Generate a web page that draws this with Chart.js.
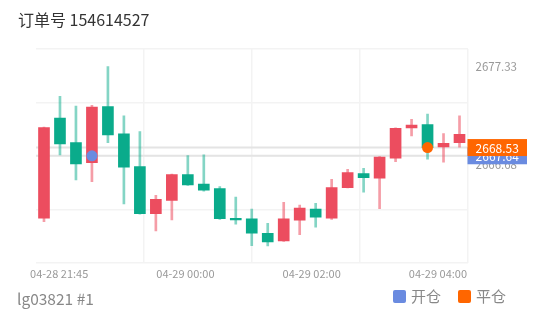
<!DOCTYPE html>
<html><head><meta charset="utf-8">
<script src="https://cdn.jsdelivr.net/npm/chart.js@4"></script>
<style>
html,body{margin:0;padding:0;background:#fff;}
#wrap{position:relative;width:557px;height:315px;overflow:hidden;font-family:"Noto Sans CJK SC","Noto Sans",sans-serif;}
canvas{position:absolute;left:0;top:0;}
#title{position:absolute;left:18px;top:8px;font-size:16px;line-height:22px;color:#333;white-space:nowrap;}
#foot{position:absolute;left:17px;top:287px;font-size:15.5px;line-height:22px;color:#888;white-space:nowrap;}
#legend{position:absolute;right:51px;top:285px;display:flex;align-items:center;font-size:15px;line-height:22px;color:#888;}
.item{display:flex;align-items:center;margin-left:17px;}
.sw{width:13px;height:13px;border-radius:2px;margin-right:5px;}
</style></head>
<body><div id="wrap"><canvas id="c" width="557" height="315"></canvas><div id="title"></div><div id="foot"></div><div id="legend"></div></div>
<script>
const orderTitle = '订单号 154614527';
const accountLabel = 'lg03821 #1';

const opens  = [2660.86,2671.74,2669.06,2666.89,2672.97,2670.01,2666.46,2661.36,2662.81,2665.59,2664.58,2664.07,2660.86,2660.79,2659.24,2658.40,2660.65,2661.87,2660.86,2664.18,2665.70,2665.20,2667.37,2670.66,2671.01,2668.60,2669.06];
const highs  = [2670.75,2674.09,2673.04,2673.12,2677.30,2671.96,2670.25,2663.36,2665.65,2667.65,2667.73,2664.29,2663.17,2661.87,2660.32,2662.60,2662.30,2662.49,2665.09,2666.18,2666.29,2667.55,2670.66,2671.60,2672.17,2670.04,2671.96];
const lows   = [2660.49,2667.73,2665.02,2664.83,2669.06,2662.41,2661.30,2659.48,2660.68,2664.42,2663.79,2660.75,2660.21,2657.89,2657.86,2658.35,2659.08,2659.89,2660.75,2664.15,2663.68,2661.90,2667.00,2669.79,2667.26,2666.94,2668.56];
const closes = [2670.69,2668.92,2666.75,2672.93,2669.90,2666.39,2661.36,2662.92,2665.59,2664.47,2663.90,2660.82,2660.68,2659.24,2658.29,2660.79,2661.98,2660.97,2664.18,2665.81,2665.27,2667.51,2670.62,2670.98,2668.53,2669.00,2669.97];

const xTickLabels = ['04-28 21:45','04-29 00:00','04-29 02:00','04-29 04:00'];
const xTickPos = [0.95, 8.85, 16.75, 24.65];
const yTickLabels = [2677.33, 2666.68];

const markerNames = ['开仓','平仓'];
const markerIndex = [3, 24];
const markerPrice = [2667.64, 2668.53];
const markerColors = ['#6a8be0','#ff6600'];

const yMin = 2656.01, yMax = 2679.22;

const RED = '#ec4d5f', GREEN = '#0aab8b';
const RED_W = 'rgba(236,77,95,0.55)', GREEN_W = 'rgba(10,171,139,0.5)';
const GRID = '#f3f3f3';
const NONE = 'rgba(0,0,0,0)';

document.getElementById('title').textContent = orderTitle;
document.getElementById('foot').textContent = accountLabel;
const lg = document.getElementById('legend');
markerNames.forEach((n,k)=>{
  const it = document.createElement('div'); it.className='item';
  const sw = document.createElement('div'); sw.className='sw'; sw.style.background = markerColors[k];
  const tx = document.createElement('span'); tx.textContent = n;
  it.appendChild(sw); it.appendChild(tx); lg.appendChild(it);
});

Chart.defaults.font.family = '"Noto Sans CJK SC","Noto Sans",sans-serif';

const idx = opens.map((_, i) => i);
const up = idx.map(i => closes[i] >= opens[i]);
const xMin = -0.5, xMax = opens.length - 0.5;

const xGrid = [0,1,2,3,4].map(k => xMin + k*(xMax-xMin)/4);
const yGrid = [0,1,2,3,4].map(k => yMin + k*(yMax-yMin)/4);

const datasets = [];
markerNames.forEach((n,k)=>{
  datasets.push({type:'scatter', label:n, data:[{x:markerIndex[k], y:markerPrice[k]}],
    backgroundColor:markerColors[k], borderWidth:0, pointRadius:5.5, pointHoverRadius:5.5, order:0});
});
datasets.push({type:'bar', label:'body', data: idx.map(i => ({x:i, y:[opens[i], closes[i]]})),
  backgroundColor: up.map(u => u ? RED : GREEN), barThickness:11, grouped:false, borderWidth:0, order:2});
datasets.push({type:'bar', label:'wick', data: idx.map(i => ({x:i, y:[lows[i], highs[i]]})),
  backgroundColor: up.map(u => u ? RED_W : GREEN_W), barThickness:2, grouped:false, borderWidth:0, order:3});

const priceTags = {
  id:'priceTags',
  beforeDatasetsDraw(chart){
    const {ctx, chartArea:a, scales:{y}} = chart;
    ctx.save(); ctx.strokeStyle='#e4e4e4'; ctx.lineWidth=2;
    markerPrice.forEach(p => { const py = y.getPixelForValue(p); ctx.beginPath(); ctx.moveTo(a.left, py); ctx.lineTo(a.right, py); ctx.stroke(); });
    ctx.restore();
  },
  afterDraw(chart){
    const {ctx, chartArea:a, scales:{y}} = chart;
    ctx.save();
    markerPrice.forEach((p,k) => {
      const py = y.getPixelForValue(p);
      ctx.fillStyle = markerColors[k];
      ctx.fillRect(a.right, py - 8.5, 59.5, 17);
      ctx.fillStyle = '#fff';
      ctx.font = '12px "Noto Sans CJK SC","Noto Sans",sans-serif';
      ctx.textAlign = 'center'; ctx.textBaseline = 'middle';
      ctx.fillText(p.toFixed(2), a.right + 29.75, py + 0.5);
    });
    ctx.restore();
  }
};

new Chart(document.getElementById('c'), {
  type:'bar',
  data:{datasets},
  options:{
    responsive:false, animation:false,
    layout:{padding:{left:36, top:49, right:0, bottom:0}},
    plugins:{legend:{display:false}, title:{display:false}, tooltip:{enabled:false}},
    events:[],
    scales:{
      x:{type:'linear', position:'bottom', min:xMin, max:xMax, offset:false,
        grid:{offset:false, drawTicks:false, lineWidth:1.5,
          color: c => (!c.tick || xTickPos.includes(c.tick.value) || c.tick.value === xMin) ? NONE : GRID},
        border:{display:false},
        afterBuildTicks: s => { s.ticks = [...xGrid, ...xTickPos].sort((a,b)=>a-b).map(v => ({value:v})); },
        afterFit: s => { s.height = 52; },
        ticks:{autoSkip:false, maxRotation:0, minRotation:0, padding:4, color:'#999', font:{size:11},
          callback: v => { const j = xTickPos.indexOf(v); return j >= 0 ? xTickLabels[j] : ''; }}
      },
      y:{type:'linear', position:'right', min:yMin, max:yMax, beginAtZero:false,
        grid:{drawTicks:false, lineWidth:1.5,
          color: c => (c.tick && yTickLabels.includes(c.tick.value)) ? NONE : GRID},
        border:{display:false},
        afterBuildTicks: s => { s.ticks = [...yGrid, ...yTickLabels].sort((a,b)=>a-b).map(v => ({value:v})); },
        afterFit: s => { s.width = 89.5; },
        ticks:{autoSkip:false, padding:8, color:'#999', font:{size:11.5},
          callback: v => yTickLabels.includes(v) ? v.toFixed(2) : ''}
      }
    }
  },
  plugins:[priceTags]
});
</script>
</body></html>
